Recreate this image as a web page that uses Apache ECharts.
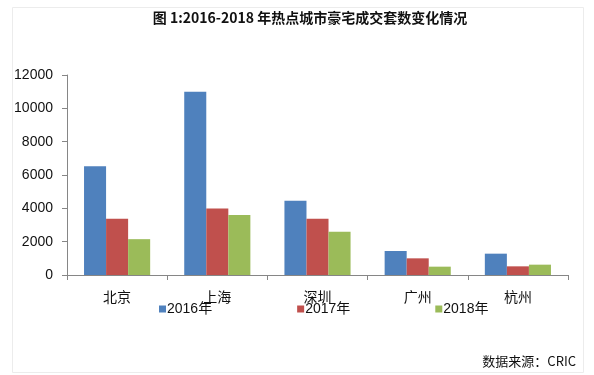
<!DOCTYPE html>
<html>
<head>
<meta charset="utf-8">
<script src="https://cdn.jsdelivr.net/npm/echarts@6/dist/echarts.min.js"></script>
<style>
html,body{margin:0;padding:0;background:#fff;}
#c{width:594px;height:375px;}
</style>
</head>
<body>
<div id="c"></div>
<script>
const categories = ['北京', '上海', '深圳', '广州', '杭州'];
const seriesNames = ['2016年', '2017年', '2018年'];
const values2016 = [6520, 11000, 4460, 1440, 1280];
const values2017 = [3380, 3990, 3370, 1000, 520];
const values2018 = [2150, 3600, 2600, 500, 620];
const yTicks = [0, 2000, 4000, 6000, 8000, 10000, 12000];
const titleText = '图 1:2016-2018 年热点城市豪宅成交套数变化情况';
const sourceText = '数据来源：CRIC';

const colors = ['#4F81BD', '#C0504D', '#9BBB59'];
const fontLatin = '"Liberation Sans", Arial, "Noto Sans CJK SC", sans-serif';
const fontCJK = '"Noto Sans CJK SC", sans-serif';

const chart = echarts.init(document.getElementById('c'), null, {renderer: 'canvas'});
const allValues = [values2016, values2017, values2018];

chart.setOption({
  animation: false,
  backgroundColor: '#fff',
  title: {
    text: titleText,
    left: 305,
    textAlign: 'center',
    top: 6,
    textStyle: {fontFamily: fontCJK, fontSize: 14, fontWeight: 'bold', color: '#111'}
  },
  legend: {
    data: seriesNames,
    left: 154,
    top: 297,
    itemWidth: 7,
    itemHeight: 7,
    itemGap: 85,
    icon: 'rect',
    textStyle: {fontFamily: fontLatin, fontSize: 14, color: '#111', padding: [0, 0, 0, -4]}
  },
  grid: {left: 67, right: 26, top: 75, bottom: 100},
  xAxis: {
    type: 'category',
    data: categories,
    axisLine: {lineStyle: {color: '#868686', width: 1}},
    axisTick: {show: true, length: 5, alignWithLabel: false, lineStyle: {color: '#868686'}},
    axisLabel: {fontFamily: fontCJK, fontSize: 14, color: '#111', margin: 15}
  },
  yAxis: {
    type: 'value',
    min: yTicks[0],
    max: yTicks[yTicks.length - 1],
    interval: yTicks[1] - yTicks[0],
    axisLine: {show: true, lineStyle: {color: '#868686', width: 1}},
    axisTick: {show: true, length: 5, lineStyle: {color: '#868686'}},
    splitLine: {show: false},
    axisLabel: {fontFamily: fontLatin, fontSize: 14, color: '#111', margin: 14, formatter: v => String(v)}
  },
  series: seriesNames.map((name, i) => ({
    name: name,
    type: 'bar',
    data: allValues[i],
    barGap: '0%',
    barCategoryGap: '34%',
    itemStyle: {color: colors[i]}
  })),
  graphic: [
    {
      type: 'rect',
      shape: {x: 12.5, y: 7.5, width: 571, height: 365},
      style: {fill: 'none', stroke: '#ececec', lineWidth: 1},
      silent: true,
      z: -10
    },
    {
      type: 'text',
      right: 18,
      top: 355,
      style: {text: sourceText, font: '13px ' + fontCJK, fill: '#111'}
    }
  ]
});
</script>
</body>
</html>
